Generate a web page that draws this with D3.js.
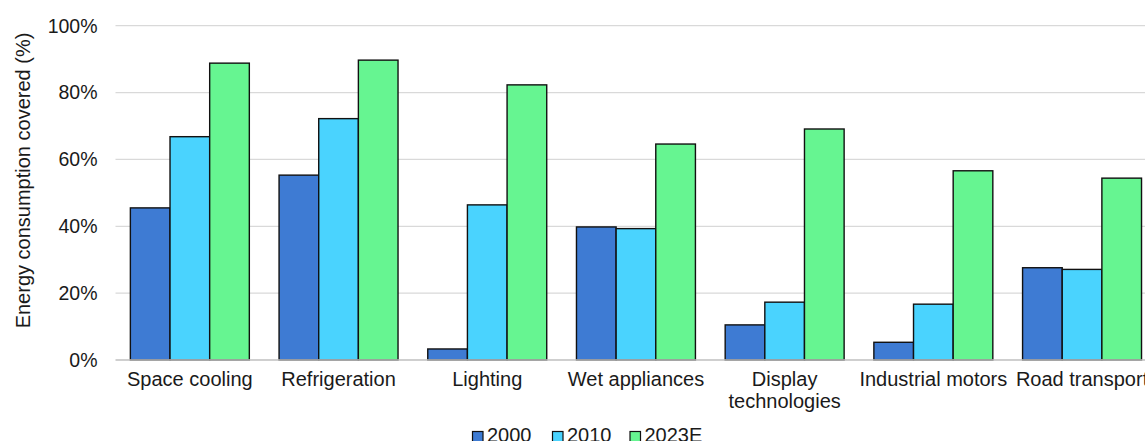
<!DOCTYPE html>
<html>
<head>
<meta charset="utf-8">
<script src="https://cdn.jsdelivr.net/npm/d3@7"></script>
<style>
  html, body { margin: 0; padding: 0; background: #fff; }
  svg { display: block; font-family: "Liberation Sans", Arial, sans-serif; }
</style>
</head>
<body>
<svg id="chart" width="1145" height="441"></svg>
<script>
// Share of end-use energy consumption covered by policies
const categories = ["Space cooling", "Refrigeration", "Lighting", "Wet appliances",
                    "Display technologies", "Industrial motors", "Road transport"];
const seriesNames = ["2000", "2010", "2023E"];
const values2000  = [45.5, 55.3, 3.3, 39.8, 10.5, 5.3, 27.6];
const values2010  = [66.8, 72.2, 46.4, 39.3, 17.3, 16.7, 27.1];
const values2023E = [88.8, 89.7, 82.3, 64.6, 69.1, 56.6, 54.4];
const yTicks = [0, 20, 40, 60, 80, 100];
const colors = ["#3e7bd3", "#4ad3fe", "#66f591"];

const seriesValues = [values2000, values2010, values2023E];

const svg = d3.select("#chart");
const margin = { left: 115.5, top: 25.7, bottom: 360 };
const plotRight = 1156.4;

const x = d3.scaleBand().domain(categories).range([margin.left, plotRight]).paddingInner(0.2).paddingOuter(0.1);
const xs = d3.scaleBand().domain(seriesNames).range([0, x.bandwidth()]);
const y = d3.scaleLinear().domain([0, 100]).range([margin.bottom, margin.top]);

// gridlines
svg.append("g").selectAll("line").data(yTicks.filter(d => d > 0)).join("line")
  .attr("x1", margin.left).attr("x2", 1145)
  .attr("y1", d => y(d)).attr("y2", d => y(d))
  .attr("stroke", "#d9d9d9").attr("stroke-width", 1.3);

// y tick labels
svg.append("g").selectAll("text").data(yTicks).join("text")
  .attr("x", 97.5).attr("y", d => y(d)).attr("dy", "0.35em")
  .attr("text-anchor", "end").attr("font-size", 19.5).attr("fill", "#1a1a1a")
  .text(d => d + "%");

// y axis title
svg.append("text")
  .attr("transform", `translate(30,180.5) rotate(-90)`)
  .attr("text-anchor", "middle").attr("font-size", 20).attr("fill", "#1a1a1a")
  .text("Energy consumption covered (%)");

// bars
const groups = svg.append("g").selectAll("g").data(seriesNames).join("g")
  .attr("fill", (d, i) => colors[i]);
groups.each(function(name, si) {
  d3.select(this).selectAll("rect").data(categories).join("rect")
    .attr("x", c => x(c) + xs(name))
    .attr("width", xs.bandwidth())
    .attr("y", (c, ci) => y(seriesValues[si][ci]))
    .attr("height", (c, ci) => y(0) - y(seriesValues[si][ci]))
    .attr("stroke", "#111").attr("stroke-width", 1.4);
});

// baseline
svg.append("line")
  .attr("x1", margin.left).attr("x2", 1145)
  .attr("y1", y(0)).attr("y2", y(0))
  .attr("stroke", "#bfbfbf").attr("stroke-width", 1.5);

// category labels
const labelLines = { "Display technologies": ["Display", "technologies"] };
svg.append("g").selectAll("text").data(categories).join("text")
  .attr("x", c => x(c) + x.bandwidth() / 2)
  .attr("y", 385.5)
  .attr("text-anchor", "middle").attr("font-size", 20).attr("fill", "#1a1a1a")
  .each(function(c) {
    const lines = labelLines[c] || [c];
    d3.select(this).selectAll("tspan").data(lines).join("tspan")
      .attr("x", x(c) + x.bandwidth() / 2)
      .attr("dy", (d, i) => i === 0 ? 0 : 22)
      .text(d => d);
  });

// legend
const legendItems = [
  { name: "2000", sx: 472.5, tx: 487 },
  { name: "2010", sx: 552.5, tx: 567 },
  { name: "2023E", sx: 630, tx: 644.5 }
];
const lg = svg.append("g").selectAll("g").data(legendItems).join("g");
lg.append("rect")
  .attr("x", d => d.sx).attr("y", 431.5).attr("width", 10.5).attr("height", 10.5)
  .attr("fill", (d, i) => colors[i]).attr("stroke", "#111").attr("stroke-width", 1.2);
lg.append("text")
  .attr("x", d => d.tx).attr("y", 441.5)
  .attr("font-size", 20).attr("fill", "#1a1a1a")
  .text(d => d.name);
</script>
</body>
</html>
